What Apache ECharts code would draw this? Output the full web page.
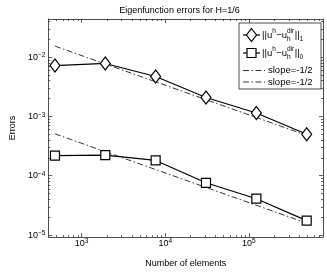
<!DOCTYPE html>
<html><head><meta charset="utf-8">
<script src="https://cdn.jsdelivr.net/npm/echarts@6/dist/echarts.min.js"></script>
<style>html,body{margin:0;padding:0;background:#fff}#c{width:327px;height:273px}</style>
</head><body><div id="c"></div>
<script>
// ---- data ----
const elements = [480, 1920, 7680, 30720, 122880, 491520];
const errH1 = [7.2e-3, 7.8e-3, 4.7e-3, 2.08e-3, 1.14e-3, 5.0e-4];
const errL2 = [2.18e-4, 2.22e-4, 1.81e-4, 7.6e-5, 4.1e-5, 1.75e-5];
const slopeX = [480, 491520];
const slopeH1 = [1.53e-2, 4.79e-4];
const slopeL2 = [5.08e-4, 1.59e-5];
const xMajor = [1e3, 1e4, 1e5];
const yMajor = [1e-5, 1e-4, 1e-3, 1e-2];
const titleText = 'Eigenfunction errors for H=1/6';
const xName = 'Number of elements';
const yName = 'Errors';
const slopeLabel = 'slope=-1/2';
const X_MIN = 400, X_MAX = 770000, Y_MIN = 9.24e-6, Y_MAX = 0.0438;

const FONT = '"Liberation Sans", Arial, Helvetica, sans-serif';
const AX = '#222';

function minorVals(lo, hi) {
  const out = [];
  for (let k = Math.floor(Math.log10(lo)); k <= Math.ceil(Math.log10(hi)); k++) {
    for (let m = 2; m <= 9; m++) {
      const v = m * Math.pow(10, k);
      if (v > lo && v < hi) out.push(v);
    }
  }
  return out;
}
const xMinor = minorVals(X_MIN, X_MAX);
const yMinor = minorVals(Y_MIN, Y_MAX);

function fmtPow(v) {
  const e = Math.round(Math.log10(v));
  return '{b|10}{s|' + (e < 0 ? '\u2212' + (-e) : e) + '}';
}
const richLab = {
  b: {fontSize: 9, fontFamily: FONT, color: '#000', lineHeight: 10, padding: [3, 0, 3, 0], verticalAlign: 'middle'},
  s: {fontSize: 6.5, fontFamily: FONT, color: '#000', lineHeight: 7, padding: [0, 0, 9, 0], verticalAlign: 'top'}
};

function mkAxis(kind, pos, ticks, len, showLabel, showLine, extra) {
  const isX = kind === 'x';
  return Object.assign({
    type: 'log', logBase: 10,
    min: isX ? X_MIN : Y_MIN, max: isX ? X_MAX : Y_MAX,
    position: pos, gridIndex: 0,
    axisLine: {show: showLine, onZero: false, lineStyle: {color: AX, width: 0.8}},
    axisTick: {show: true, inside: true, length: len, customValues: ticks, lineStyle: {color: AX, width: 0.7}},
    axisLabel: showLabel ? {
      show: true, customValues: ticks, formatter: fmtPow, rich: richLab,
      margin: isX ? 1 : 3
    } : {show: false},
    splitLine: {show: false}
  }, extra || {});
}

const xAxes = [
  mkAxis('x', 'bottom', xMajor, 4, true, true, {
    name: xName, nameLocation: 'middle', nameGap: 17,
    nameTextStyle: {fontSize: 9, fontFamily: FONT, color: '#000'}
  }),
  mkAxis('x', 'top', xMajor, 4, false, true),
  mkAxis('x', 'bottom', xMinor, 2, false, false),
  mkAxis('x', 'top', xMinor, 2, false, false)
];
const yAxes = [
  mkAxis('y', 'left', yMajor, 4, true, true, {
    name: yName, nameLocation: 'middle', nameGap: 25,
    nameTextStyle: {fontSize: 9, fontFamily: FONT, color: '#000'}
  }),
  mkAxis('y', 'right', yMajor, 4, false, true),
  mkAxis('y', 'left', yMinor, 2, false, false),
  mkAxis('y', 'right', yMinor, 2, false, false)
];

const pairs = (xs, ys) => xs.map((x, i) => [x, ys[i]]);
const DASHDOT = [6, 2.5, 1.5, 2.5];

// ---- legend drawn with graphics ----
const meas = document.createElement('canvas').getContext('2d');
function tw(t, size) { meas.font = size + 'px ' + FONT; return meas.measureText(t).width; }
function txt(t, x, y, size) {
  return {type: 'text', z: 100, style: {text: t, x: x, y: y, font: size + 'px ' + FONT, fill: '#000',
    textAlign: 'left', textVerticalAlign: 'middle'}};
}
const LS = 9.5, SS = 6.5;
function normText(x, y, sub) {
  const g = [];
  g.push(txt('||u', x, y, LS)); x += tw('||u', LS);
  g.push(txt('h', x, y - 4, SS)); x += tw('h', SS) + 0.3;
  g.push(txt('\u2212u', x, y, LS)); x += tw('\u2212u', LS);
  g.push(txt('dir', x, y - 4, SS)); g.push(txt('h', x, y + 4, SS)); x += tw('dir', SS) + 0.5;
  g.push(txt('||', x, y, LS)); x += tw('||', LS);
  g.push(txt(sub, x, y + 4, SS));
  return g;
}
const legG = [];
const BX0 = 239, BX1 = 321, BY0 = 23, BY1 = 89;
legG.push({type: 'rect', z: 99, shape: {x: BX0, y: BY0, width: BX1 - BX0, height: BY1 - BY0},
  style: {fill: '#fff', stroke: AX, lineWidth: 0.8}});
const r1 = 35, r2 = 53, r3 = 70.5, r4 = 82;
legG.push({type: 'line', z: 100, shape: {x1: 243, y1: r1, x2: 260, y2: r1}, style: {stroke: '#000', lineWidth: 1.2}});
legG.push({type: 'polygon', z: 101, shape: {points: [[251.5, r1 - 6.5], [256.5, r1], [251.5, r1 + 6.5], [246.5, r1]]},
  style: {fill: '#fff', stroke: '#000', lineWidth: 1.2}});
legG.push(...normText(262, r1, '1'));
legG.push({type: 'line', z: 100, shape: {x1: 243, y1: r2, x2: 260, y2: r2}, style: {stroke: '#000', lineWidth: 1.2}});
legG.push({type: 'rect', z: 101, shape: {x: 247, y: r2 - 4.5, width: 9, height: 9},
  style: {fill: '#fff', stroke: '#000', lineWidth: 1.2}});
legG.push(...normText(262, r2, '0'));
[r3, r4].forEach(r => {
  legG.push({type: 'line', z: 100, shape: {x1: 243, y1: r, x2: 265, y2: r}, style: {stroke: '#000', lineWidth: 0.8, lineDash: DASHDOT}});
  legG.push(txt(slopeLabel, 268, r, LS));
});

const option = {
  animation: false,
  backgroundColor: '#fff',
  grid: {left: 36, top: 19, right: 4, bottom: 29, containLabel: false},
  xAxis: xAxes,
  yAxis: yAxes,
  graphic: [
    {type: 'text', z: 100, style: {text: titleText, x: 179.5, y: 11, font: '9px ' + FONT, fill: '#000',
      textAlign: 'center', textVerticalAlign: 'middle'}},
    ...legG
  ],
  series: [
    {type: 'line', name: 'slope1', data: pairs(slopeX, slopeH1), symbol: 'none', z: 2,
      lineStyle: {color: '#000', width: 0.8, type: DASHDOT}},
    {type: 'line', name: 'slope2', data: pairs(slopeX, slopeL2), symbol: 'none', z: 2,
      lineStyle: {color: '#000', width: 0.8, type: DASHDOT}},
    {type: 'line', name: 'H1', data: pairs(elements, errH1), symbol: 'diamond', symbolSize: [10, 13], z: 3,
      lineStyle: {color: '#000', width: 1.2}, itemStyle: {color: '#fff', borderColor: '#000', borderWidth: 1.2}},
    {type: 'line', name: 'L2', data: pairs(elements, errL2), symbol: 'rect', symbolSize: 9, z: 3,
      lineStyle: {color: '#000', width: 1.2}, itemStyle: {color: '#fff', borderColor: '#000', borderWidth: 1.2}}
  ]
};
const chart = echarts.init(document.getElementById('c'), null, {renderer: 'canvas'});
chart.setOption(option);
</script></body></html>
